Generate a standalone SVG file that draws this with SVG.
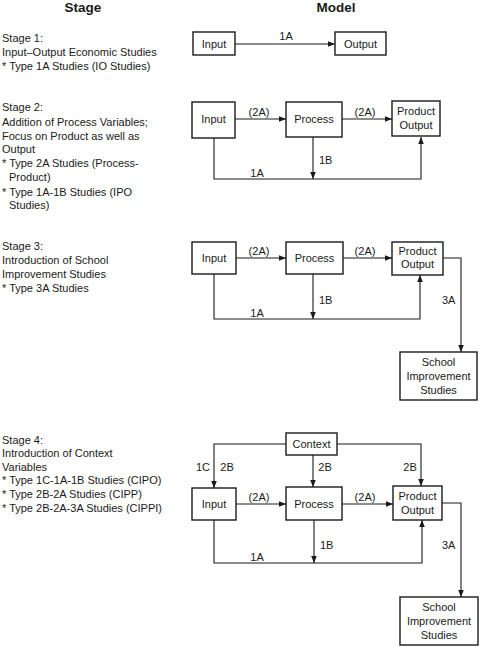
<svg xmlns="http://www.w3.org/2000/svg" width="483" height="647" viewBox="0 0 483 647">
<defs>
<style>
text{font-family:"Liberation Sans",Arial,sans-serif;font-size:11px;fill:#1a1a1a}
.title{font-size:13.5px;font-weight:bold;text-anchor:middle}
.c{text-anchor:middle}
.box{fill:#fff;stroke:#1a1a1a;stroke-width:1.4}
.ln{fill:none;stroke:#1a1a1a;stroke-width:1.1}
</style>
<marker id="ah" viewBox="0 0 10 10" refX="10" refY="5" markerWidth="7" markerHeight="7" markerUnits="userSpaceOnUse" orient="auto">
<path d="M0,1 L10,5 L0,9 z" fill="#1a1a1a"/>
</marker>
</defs>
<rect width="483" height="647" fill="#fff"/>
<text class="title" x="83" y="11.5">Stage</text>
<text class="title" x="336" y="11.5">Model</text>

<g id="stage-text">
<text x="2" y="42">Stage 1:</text>
<text x="2" y="56">Input–Output Economic Studies</text>
<text x="2" y="70">* Type 1A Studies (IO Studies)</text>

<text x="2" y="111">Stage 2:</text>
<text x="2" y="126">Addition of Process Variables;</text>
<text x="2" y="140">Focus on Product as well as</text>
<text x="2" y="153">Output</text>
<text x="2" y="167">* Type 2A Studies (Process-</text>
<text x="9" y="181">Product)</text>
<text x="2" y="196">* Type 1A-1B Studies (IPO</text>
<text x="9" y="209">Studies)</text>

<text x="2" y="250">Stage 3:</text>
<text x="2" y="264">Introduction of School</text>
<text x="2" y="278">Improvement Studies</text>
<text x="2" y="292">* Type 3A Studies</text>

<text x="2" y="444">Stage 4:</text>
<text x="2" y="457">Introduction of Context</text>
<text x="2" y="471">Variables</text>
<text x="2" y="484">* Type 1C-1A-1B Studies (CIPO)</text>
<text x="2" y="498">* Type 2B-2A Studies (CIPP)</text>
<text x="2" y="512">* Type 2B-2A-3A Studies (CIPPI)</text>
</g>

<g id="connectors">
<!-- stage 1 -->
<line class="ln" x1="235" y1="44" x2="335" y2="44" marker-end="url(#ah)"/>
<text class="c" x="286" y="40">1A</text>
<!-- stage 2 -->
<line class="ln" x1="235" y1="119" x2="286" y2="119" marker-end="url(#ah)"/>
<line class="ln" x1="342" y1="119" x2="392" y2="119" marker-end="url(#ah)"/>
<polyline class="ln" points="214,138 214,179 421,179 421,137" marker-end="url(#ah)"/>
<line class="ln" x1="313" y1="137" x2="313" y2="179" marker-end="url(#ah)"/>
<text class="c" x="259" y="116">(2A)</text>
<text class="c" x="365" y="116">(2A)</text>
<text x="319" y="164">1B</text>
<text class="c" x="257" y="177">1A</text>
<!-- stage 3 -->
<line class="ln" x1="236" y1="258" x2="286" y2="258" marker-end="url(#ah)"/>
<line class="ln" x1="343" y1="258" x2="392" y2="258" marker-end="url(#ah)"/>
<polyline class="ln" points="214,274 214,319 420,319 420,275" marker-end="url(#ah)"/>
<line class="ln" x1="313" y1="274" x2="313" y2="319" marker-end="url(#ah)"/>
<polyline class="ln" points="443,258 461,258 461,352" marker-end="url(#ah)"/>
<text class="c" x="259" y="255">(2A)</text>
<text class="c" x="365" y="255">(2A)</text>
<text x="319" y="304">1B</text>
<text class="c" x="257" y="317">1A</text>
<text x="442" y="304">3A</text>
<!-- stage 4 -->
<polyline class="ln" points="286,444 214,444 214,488" marker-end="url(#ah)"/>
<polyline class="ln" points="337,444 421,444 421,486" marker-end="url(#ah)"/>
<line class="ln" x1="313" y1="455" x2="313" y2="487" marker-end="url(#ah)"/>
<line class="ln" x1="236" y1="504" x2="286" y2="504" marker-end="url(#ah)"/>
<line class="ln" x1="342" y1="504" x2="393" y2="504" marker-end="url(#ah)"/>
<polyline class="ln" points="214,520 214,563 422,563 422,520" marker-end="url(#ah)"/>
<line class="ln" x1="314" y1="520" x2="314" y2="563" marker-end="url(#ah)"/>
<polyline class="ln" points="442,503 461,503 461,597" marker-end="url(#ah)"/>
<text class="c" x="203" y="471">1C</text>
<text class="c" x="227" y="471">2B</text>
<text class="c" x="325" y="471">2B</text>
<text class="c" x="410" y="471">2B</text>
<text class="c" x="259" y="501">(2A)</text>
<text class="c" x="365" y="501">(2A)</text>
<text x="320" y="549">1B</text>
<text class="c" x="257" y="561">1A</text>
<text x="442" y="549">3A</text>
</g>

<g id="s1-input"><rect class="box" x="193" y="32" width="42" height="23"/><text class="c" x="214" y="48">Input</text></g>
<g id="s1-output"><rect class="box" x="335" y="32" width="51" height="23"/><text class="c" x="360.5" y="48">Output</text></g>

<g id="s2-input"><rect class="box" x="192" y="102" width="43" height="36"/><text class="c" x="213.5" y="123">Input</text></g>
<g id="s2-process"><rect class="box" x="286" y="102" width="56" height="35"/><text class="c" x="314" y="123">Process</text></g>
<g id="s2-product"><rect class="box" x="392" y="101" width="48" height="35"/><text class="c" x="416" y="115">Product</text><text class="c" x="416" y="129">Output</text></g>

<g id="s3-input"><rect class="box" x="192" y="242" width="44" height="32"/><text class="c" x="214" y="262">Input</text></g>
<g id="s3-process"><rect class="box" x="286" y="242" width="57" height="32"/><text class="c" x="314.5" y="262">Process</text></g>
<g id="s3-product"><rect class="box" x="392" y="242" width="51" height="33"/><text class="c" x="417.5" y="255">Product</text><text class="c" x="417.5" y="268">Output</text></g>
<g id="s3-school"><rect class="box" x="400" y="352" width="77" height="48"/><text class="c" x="438.5" y="366">School</text><text class="c" x="438.5" y="380">Improvement</text><text class="c" x="438.5" y="394">Studies</text></g>

<g id="s4-context"><rect class="box" x="286" y="433" width="51" height="22"/><text class="c" x="311.5" y="448">Context</text></g>
<g id="s4-input"><rect class="box" x="192" y="488" width="44" height="32"/><text class="c" x="214" y="508">Input</text></g>
<g id="s4-process"><rect class="box" x="286" y="487" width="56" height="33"/><text class="c" x="314" y="508">Process</text></g>
<g id="s4-product"><rect class="box" x="393" y="486" width="49" height="34"/><text class="c" x="417.5" y="500">Product</text><text class="c" x="417.5" y="514">Output</text></g>
<g id="s4-school"><rect class="box" x="400" y="597" width="78" height="48"/><text class="c" x="439" y="611">School</text><text class="c" x="439" y="625">Improvement</text><text class="c" x="439" y="639">Studies</text></g>
</svg>
